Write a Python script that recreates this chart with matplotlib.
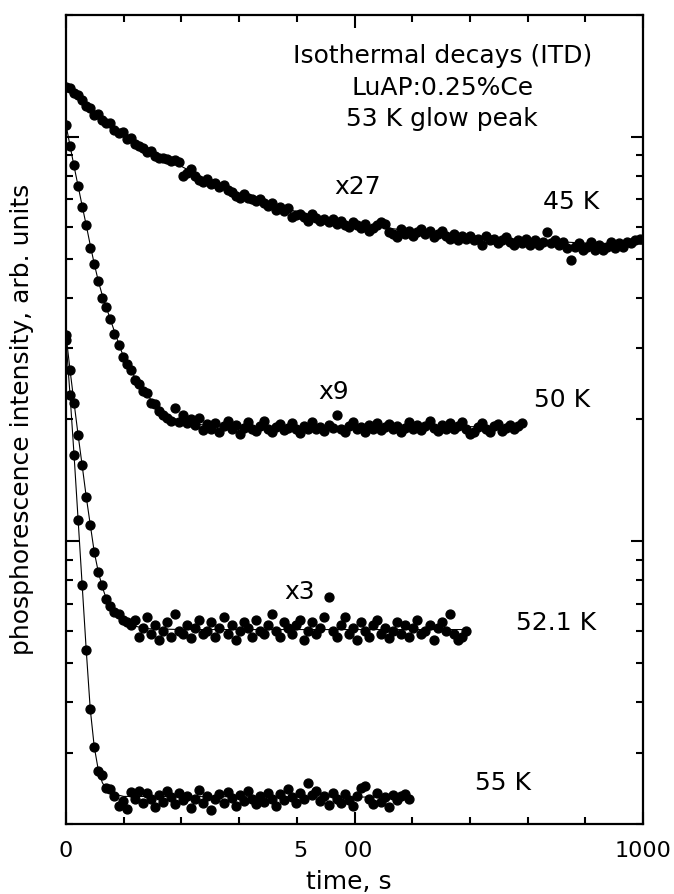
import numpy as np
import matplotlib
matplotlib.use("Agg")
import matplotlib.pyplot as plt
from matplotlib.ticker import LogLocator, NullFormatter, MultipleLocator, FixedLocator, FixedFormatter

plt.rcParams['font.family'] = ['DejaVu Sans']

# sampling step of the decays, s
dt = 7.0

# 45 K decay (x27)
i45 = [133, 132, 128, 127, 123, 119, 118, 113, 114, 110,
       108, 108, 104, 102, 103, 99, 99.5, 96, 95, 94,
       91.5, 92, 89.5, 88.5, 88.5, 88, 87, 87.5, 86.5, 80,
       81.5, 83, 80, 78, 77.5, 78.5, 76.5, 77, 75, 76,
       74, 73, 71.5, 70.5, 72, 70.5, 70, 69.5, 70, 68.5,
       67.5, 68.5, 66, 67, 65.5, 66.5, 63.5, 64, 64.5, 63.5,
       62, 64.5, 63, 62, 62.5, 61.5, 62.5, 61, 62, 60.5,
       60, 61.5, 60.5, 59.5, 61, 58.5, 59.5, 60.5, 61.5, 61,
       58, 57.5, 56.5, 59, 57.5, 58.5, 57, 58, 59, 57.5,
       58.5, 56.5, 57.5, 58.5, 57, 56, 57.5, 55.5, 57, 56,
       57, 55.5, 56, 54, 57, 55.5, 56, 54.5, 55.5, 56.5,
       55, 54, 55.5, 54.5, 56, 54, 55.5, 54, 55, 58,
       54.5, 55.5, 54, 55, 53, 49.6, 53.5, 54.5, 52.5, 53.5,
       55, 52.5, 54, 52.5, 53.5, 55, 53, 54.5, 53.5, 55,
       54.5, 55.5, 56]

# 50 K decay (x9)
i50 = [107, 95, 85, 75.5, 67, 60.5, 53, 48.5, 44, 40,
       38, 35.5, 32.5, 30.5, 28.5, 27.5, 26.5, 25, 24.5, 23.5,
       23.3, 22, 21.8, 21, 20.5, 20.2, 19.8, 21.3, 19.7, 20.5,
       19.6, 20.1, 19.4, 20.2, 18.8, 19.5, 19.0, 19.6, 18.6, 19.3,
       19.8, 18.9, 19.4, 18.4, 19.1, 19.7, 19.0, 18.7, 19.3, 19.8,
       19.0, 18.6, 19.2, 19.5, 18.8, 19.1, 19.6, 19.0, 18.5, 19.3,
       19.0, 19.7, 18.9, 19.2, 18.7, 19.4, 19.1, 20.5, 19.0, 18.6,
       19.3, 19.7, 18.9, 19.2, 18.6, 19.4, 19.0, 19.6, 18.8, 19.2,
       19.5, 18.9, 19.3, 18.6, 19.1, 19.7, 19.0, 19.4, 18.8, 19.3,
       19.8, 19.1, 18.7, 19.4, 19.0, 19.6, 18.9, 19.3, 19.7, 19.0,
       18.4, 18.6, 19.2, 19.6, 19.0, 18.6, 19.3, 19.5, 18.7, 19.1,
       19.4, 19.0, 19.3, 19.6]

# 52.1 K decay (x3)
i52 = [32.4, 26.5, 22.0, 18.3, 15.4, 12.9, 11.0, 9.4, 8.4, 7.8,
       7.2, 6.9, 6.7, 6.6, 6.4, 6.3, 6.2, 6.4, 5.8, 6.1,
       6.5, 5.9, 6.2, 5.7, 6.0, 6.3, 5.8, 6.6, 6.0, 5.9,
       6.2, 5.75, 6.1, 6.4, 5.9, 6.0, 6.3, 5.8, 6.1, 6.5,
       5.9, 6.2, 5.7, 6.0, 6.3, 6.1, 5.8, 6.4, 6.0, 5.9,
       6.2, 6.6, 6.0, 5.8, 6.3, 6.1, 5.9, 6.2, 6.4, 5.7,
       6.0, 6.3, 5.9, 6.1, 6.5, 7.3, 6.0, 5.8, 6.2, 6.5,
       5.9, 6.1, 5.7, 6.3, 6.0, 5.8, 6.2, 6.4, 5.9, 6.1,
       5.75, 6.0, 6.3, 5.9, 6.2, 5.8, 6.1, 6.4, 5.9, 6.0,
       6.2, 5.7, 6.1, 6.3, 6.0, 6.6, 5.9, 5.7, 5.8, 6.0]

# 55 K decay
i55 = [31.5, 23.0, 16.3, 11.3, 7.8, 5.4, 3.85, 3.1, 2.7, 2.65,
       2.45, 2.44, 2.35, 2.22, 2.28, 2.18, 2.40, 2.30, 2.42, 2.25,
       2.38, 2.31, 2.20, 2.36, 2.27, 2.41, 2.33, 2.24, 2.38, 2.29,
       2.35, 2.19, 2.30, 2.43, 2.26, 2.34, 2.17, 2.31, 2.37, 2.25,
       2.40, 2.32, 2.22, 2.36, 2.28, 2.41, 2.30, 2.24, 2.35, 2.27,
       2.39, 2.31, 2.21, 2.37, 2.29, 2.44, 2.33, 2.26, 2.38, 2.30,
       2.52, 2.36, 2.42, 2.28, 2.34, 2.23, 2.39, 2.31, 2.25, 2.37,
       2.29, 2.22, 2.35, 2.46, 2.48, 2.30, 2.24, 2.38, 2.27, 2.33,
       2.20, 2.36, 2.29, 2.34, 2.37, 2.31]

# fitted curves
fit45_t = [0, 20, 40, 60, 80, 100, 130, 160, 200, 250, 300, 350, 400, 450, 500, 600, 700, 800, 900, 1000]
fit45 = [133, 127, 118, 112, 106, 101.5, 95.5, 90, 84.5, 77.5, 71.8, 68.2, 65.3, 62.9, 61.0, 58.4, 56.8, 55.5, 54.6, 54.3]
fit50_t = [0, 7, 14, 21, 28, 35, 42, 49, 56, 63, 70, 84, 98, 112, 126, 140, 160, 180, 210, 250, 300, 792]
fit50 = [107, 95, 84.5, 75.5, 67.5, 60.5, 54, 48.5, 44, 40.5, 37.8, 33, 29, 26.5, 24.5, 23.0, 21.4, 20.3, 19.6, 19.3, 19.2, 19.2]
fit52_t = [0, 7, 14, 21, 28, 35, 42, 49, 56, 63, 70, 84, 98, 112, 140, 200, 693]
fit52 = [32.4, 26.5, 22, 18.3, 15.4, 12.9, 11.0, 9.4, 8.4, 7.7, 7.2, 6.7, 6.4, 6.2, 6.08, 6.05, 6.05]
fit55_t = [0, 7, 14, 21, 28, 35, 42, 49, 56, 63, 70, 84, 100, 598]
fit55 = [31.5, 23, 16.3, 11.3, 7.8, 5.4, 3.85, 3.1, 2.72, 2.53, 2.44, 2.37, 2.34, 2.33]

fig = plt.figure(figsize=(6.74, 8.94), dpi=100)
ax = fig.add_axes([66/674, 70/894, 577/674, 809/894])

for vals, ft, fv in [(i45, fit45_t, fit45), (i50, fit50_t, fit50),
                     (i52, fit52_t, fit52), (i55, fit55_t, fit55)]:
    t = np.arange(len(vals)) * dt
    ax.plot(ft, fv, color='black', lw=0.8, zorder=2)
    ax.plot(t, vals, 'o', color='black', ms=6.4, mec='black', zorder=3)

ax.set_yscale('log')
ax.set_xlim(0, 1000)
ax.set_ylim(2, 200)

ax.xaxis.set_major_locator(FixedLocator([0, 500, 1000]))
ax.xaxis.set_major_formatter(FixedFormatter(['0', '', '1000']))
ax.xaxis.set_minor_locator(MultipleLocator(100))
ax.yaxis.set_major_locator(LogLocator(base=10))
ax.yaxis.set_minor_locator(LogLocator(base=10, subs=np.arange(2, 10)))
ax.yaxis.set_major_formatter(NullFormatter())
ax.yaxis.set_minor_formatter(NullFormatter())

ax.tick_params(which='both', direction='in', top=True, right=True, width=1.5)
ax.tick_params(which='major', length=9, labelsize=16, pad=12)
ax.tick_params(which='minor', length=5)
for s in ax.spines.values():
    s.set_linewidth(1.6)

# odd "5 00" label under the middle tick
ax.text(463, -0.033, '5     00', transform=ax.get_xaxis_transform(),
        ha='center', va='center', fontsize=16)

fs = 18
ax.text(0.652, 0.949, 'Isothermal decays (ITD)', transform=ax.transAxes, ha='center', va='center', fontsize=fs)
ax.text(0.652, 0.910, 'LuAP:0.25%Ce', transform=ax.transAxes, ha='center', va='center', fontsize=fs)
ax.text(0.652, 0.871, '53 K glow peak', transform=ax.transAxes, ha='center', va='center', fontsize=fs)

ax.text(0.506, 0.787, 'x27', transform=ax.transAxes, ha='center', va='center', fontsize=fs)
ax.text(0.875, 0.769, '45 K', transform=ax.transAxes, ha='center', va='center', fontsize=fs)
ax.text(0.464, 0.534, 'x9', transform=ax.transAxes, ha='center', va='center', fontsize=fs)
ax.text(0.860, 0.524, '50 K', transform=ax.transAxes, ha='center', va='center', fontsize=fs)
ax.text(0.404, 0.287, 'x3', transform=ax.transAxes, ha='center', va='center', fontsize=fs)
ax.text(0.849, 0.248, '52.1 K', transform=ax.transAxes, ha='center', va='center', fontsize=fs)
ax.text(0.757, 0.051, '55 K', transform=ax.transAxes, ha='center', va='center', fontsize=fs)

fig.text(0.032, 0.531, 'phosphorescence intensity, arb. units', rotation=90,
         ha='center', va='center', fontsize=fs)
fig.text(0.518, 0.0134, 'time, s', ha='center', va='center', fontsize=fs)

fig.savefig('out.png', dpi=100)
